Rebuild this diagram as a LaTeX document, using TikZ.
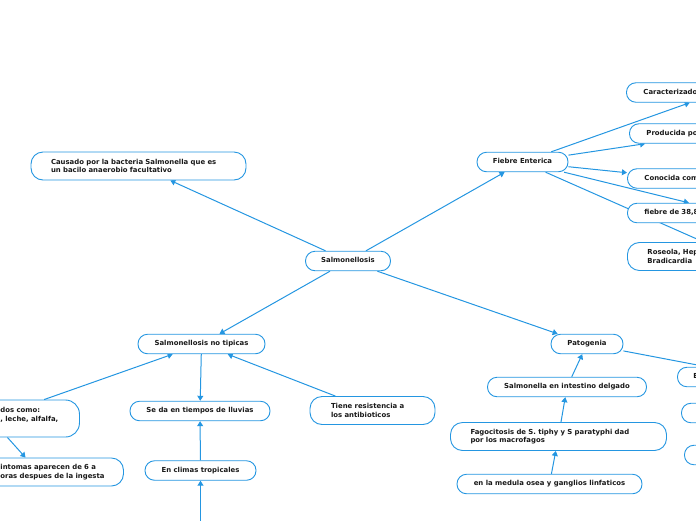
\documentclass[tikz,border=0pt]{standalone}
\usepackage{fontspec}
\setmainfont{DejaVu Sans}
\usetikzlibrary{arrows.meta,backgrounds}
\definecolor{mapblue}{RGB}{36,150,225}
\definecolor{mapink}{RGB}{25,25,25}
\newcommand{\mapfont}{\fontsize{6.9}{8.5}\selectfont\bfseries}
\tikzset{
	base/.style = {shape=rectangle, draw=mapblue, fill=white, line width=0.9pt, inner sep=0pt, text=mapink, font=\mapfont},
	idea/.style = {base, rounded corners=9.5pt, minimum height=19.5pt, text height=5.3pt, text depth=1.6pt},
	note/.style = {base, rounded corners=12pt, minimum height=28pt, align=left, inner xsep=20pt},
	cut/.style = {idea, anchor=west, align=left, inner xsep=17pt}
}

\begin{document}
\begin{tikzpicture}[
    x=1pt,
    y=-1pt,
    link/.style={
        draw=mapblue,
        line width=1pt,
        -{Triangle[length=5pt,width=6pt]}
        }]

    \useasboundingbox (0,0) rectangle (696,520);
    \clip (0,0) rectangle (696,520);

    % centre
    \node[idea, minimum width=85pt] (salm) at (348,261) {Salmonellosis};
    \node[note, text width=175pt] (causa) at (138.5,166) {Causado por la bacteria Salmonella que es\\un bacilo anaerobio facultativo};

    % fiebre enterica
    \node[idea, minimum width=91pt] (fiebre) at (522.5,162) {Fiebre Enterica};
    \node[cut, text width=150pt] (carac) at (626,92.5) {Caracterizado};
    \node[cut, text width=134pt] (prod) at (629,133.5) {Producida po};
    \node[cut, text width=77pt] (cono) at (627,178.5) {Conocida com};
    \node[cut, text width=172pt] (f388) at (627,213) {fiebre de 38,8};
    \node[note, anchor=west, text width=178pt] (roseola) at (627,256.5) {Roseola, Hep\\Bradicardia};

    % no tipicas
    \node[idea, minimum width=127pt] (notip) at (201.5,344) {Salmonellosis no tipicas};
    \node[note, anchor=west, text width=142pt, inner xsep=18pt, minimum height=37pt, rounded corners=14pt] (dos) at (-99,418.5) {\hspace*{81pt}dos como:\\\hspace*{81pt}, leche, alfalfa,\\\mbox{}};
    \node[note, anchor=west, text width=138pt, inner xsep=16pt] (sint) at (-47,472) {\hspace*{31pt}intomas aparecen de 6 a\\\hspace*{31pt}oras despues de la ingesta};
    \node[idea, minimum width=140pt] (seda) at (200,411) {Se da en tiempos de lluvias};
    \node[idea, minimum width=111pt] (climas) at (200.5,470.5) {En climas tropicales};
    \coordinate (climasin) at (200.5,560);
    \node[note, text width=83pt, inner xsep=21pt] (tiene) at (372.5,410.5) {Tiene resistencia a\\los antibioticos};

    % patogenia
    \node[idea, minimum width=72pt] (pato) at (587,344) {Patogenia};
    \node[idea, minimum width=159pt] (intest) at (567,387) {Salmonella en intestino delgado};
    \node[note, text width=176pt] (fago) at (558.5,436.5) {Fagocitosis de S. tiphy y S paratyphi dad\\por los macrofagos};
    \node[idea, minimum width=185pt] (medula) at (549.5,484) {en la medula osea y ganglios linfaticos};
    \node[cut, text width=134pt, inner xsep=16pt] (pato1) at (677,377) {E};
    \node[cut, text width=130pt, inner xsep=16pt] (pato2) at (681,413) {};
    \node[cut, text width=130pt, inner xsep=16pt] (pato3) at (684,455) {};

    \begin{scope}[on background layer]
        \draw[link] (salm) -- (causa);
        \draw[link] (salm) -- (fiebre);
        \draw[link] (salm) -- (notip);
        \draw[link] (salm) -- (pato);

        \draw[link] (fiebre) -- (carac);
        \draw[link] (fiebre) -- (prod);
        \draw[link] (fiebre) -- (cono);
        \draw[link] (fiebre) -- (f388);
        \draw[link] (fiebre) -- (roseola);

        \draw[link] (dos) -- (notip);
        \draw[link] (dos) -- (sint);
        \draw[link] (notip) -- (seda);
        \draw[link] (tiene) -- (notip);
        \draw[link] (climas) -- (seda);
        \draw[link] (climasin) -- (climas);

        \draw[link] (pato) -- (pato1);
        \draw[link] (intest) -- (pato);
        \draw[link] (fago) -- (intest);
        \draw[link] (medula) -- (fago);
    \end{scope}
\end{tikzpicture}
\end{document}
